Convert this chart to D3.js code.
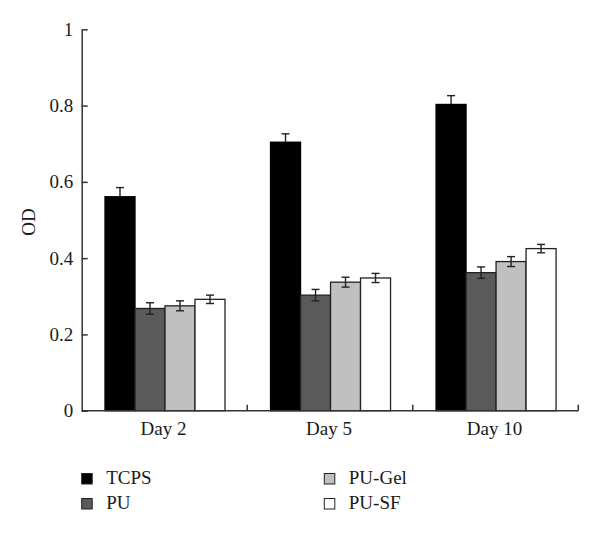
<!DOCTYPE html>
<html><head><meta charset="utf-8">
<script src="https://cdn.jsdelivr.net/npm/d3@7"></script>
<style>body{margin:0;background:#fff;}</style>
</head><body><svg id="c" width="600" height="538"></svg>
<script>
const days = ["Day 2", "Day 5", "Day 10"];
const seriesNames = ["TCPS", "PU", "PU-Gel", "PU-SF"];
const seriesColors = ["#000000", "#5a5a5a", "#c0c0c0", "#ffffff"];
const valTCPS  = [0.561, 0.704, 0.803];
const valPU    = [0.268, 0.303, 0.362];
const valPUGel = [0.275, 0.337, 0.391];
const valPUSF  = [0.292, 0.348, 0.425];
const errTCPS  = [0.024, 0.022, 0.023];
const errPU    = [0.015, 0.015, 0.015];
const errPUGel = [0.013, 0.013, 0.013];
const errPUSF  = [0.011, 0.012, 0.011];
const yTicks = [0, 0.2, 0.4, 0.6, 0.8, 1];
const yTickLabels = ["0", "0.2", "0.4", "0.6", "0.8", "1"];

(function(){
const values = [valTCPS, valPU, valPUGel, valPUSF];
const errors = [errTCPS, errPU, errPUGel, errPUSF];

const svg = d3.select("#c");
const font = "'Liberation Serif', 'DejaVu Serif', serif";
const fs = 19;
const axisColor = "#333";
const mLeft = 81.7, mRight = 578.3, mTop = 29.3, mBottom = 410.7;

const x = d3.scaleBand().domain(days).range([mLeft, mRight]).paddingInner(0).paddingOuter(0);
const y = d3.scaleLinear().domain([0, 1]).range([mBottom, mTop]);
const xs = d3.scaleBand().domain(seriesNames).range([23.3, 23.3 + 120]).padding(0);

const data = [];
days.forEach((d, i) => seriesNames.forEach((s, j) => data.push({day: d, s, j, v: values[j][i], e: errors[j][i]})));

const g = svg.append("g");
g.selectAll("rect.bar").data(data).join("rect")
  .attr("x", d => x(d.day) + xs(d.s))
  .attr("y", d => y(d.v))
  .attr("width", xs.bandwidth())
  .attr("height", d => y(0) - y(d.v))
  .attr("fill", d => seriesColors[d.j])
  .attr("stroke", d => d.j === 0 ? "#000" : "#222")
  .attr("stroke-width", 1.3);

const cx = d => x(d.day) + xs(d.s) + xs.bandwidth()/2;
const eb = g.selectAll("g.eb").data(data).join("g");
eb.append("line")
  .attr("x1", cx).attr("x2", cx)
  .attr("y1", d => d.j === 0 ? y(d.v) : y(d.v - d.e))
  .attr("y2", d => y(d.v + d.e))
  .attr("stroke", "#222").attr("stroke-width", 1.4);
eb.append("line")
  .attr("x1", d => cx(d) - 4).attr("x2", d => cx(d) + 4)
  .attr("y1", d => y(d.v + d.e)).attr("y2", d => y(d.v + d.e))
  .attr("stroke", "#222").attr("stroke-width", 1.4);
eb.filter(d => d.j !== 0).append("line")
  .attr("x1", d => cx(d) - 4).attr("x2", d => cx(d) + 4)
  .attr("y1", d => y(d.v - d.e)).attr("y2", d => y(d.v - d.e))
  .attr("stroke", "#222").attr("stroke-width", 1.4);

const yAxis = d3.axisLeft(y).tickValues(yTicks).tickFormat((d, i) => yTickLabels[i]).tickSizeInner(-6).tickSizeOuter(0).tickPadding(8.5);
const ya = svg.append("g").attr("transform", `translate(${mLeft},0)`).call(yAxis);
ya.select(".domain").attr("stroke", axisColor).attr("stroke-width", 1.5);
ya.selectAll(".tick line").attr("stroke", axisColor).attr("stroke-width", 1.5);
ya.selectAll(".tick text").attr("font-family", font).attr("font-size", fs).attr("fill", "#1a1a1a");

const xa = svg.append("g").attr("transform", `translate(0,${mBottom})`);
xa.append("line").attr("x1", mLeft).attr("x2", mRight).attr("y1", 0).attr("y2", 0).attr("stroke", axisColor).attr("stroke-width", 1.5);
const bounds = days.map(d => x(d) + x.bandwidth());
xa.selectAll("line.tk").data(bounds).join("line")
  .attr("x1", d => d).attr("x2", d => d).attr("y1", 0).attr("y2", -6)
  .attr("stroke", axisColor).attr("stroke-width", 1.5);
xa.selectAll("text").data(days).join("text")
  .attr("x", d => x(d) + x.bandwidth()/2 - 1)
  .attr("y", 24)
  .attr("text-anchor", "middle")
  .attr("font-family", font).attr("font-size", fs).attr("fill", "#1a1a1a")
  .text(d => d);

svg.append("text")
  .attr("transform", "translate(35,222) rotate(-90)")
  .attr("text-anchor", "middle")
  .attr("font-family", font).attr("font-size", fs).attr("fill", "#1a1a1a")
  .text("OD");

const legPos = [[81.7, 473.5], [81.7, 498.5], [324.3, 473.5], [324.3, 498.5]];
const leg = svg.selectAll("g.leg").data(seriesNames).join("g")
  .attr("transform", (d, i) => `translate(${legPos[i][0]},${legPos[i][1]})`);
leg.append("rect").attr("width", 10.5).attr("height", 10.5)
  .attr("fill", (d, i) => seriesColors[i]).attr("stroke", "#222").attr("stroke-width", 1);
leg.append("text").attr("x", 24.5).attr("y", 10.8)
  .attr("font-family", font).attr("font-size", fs).attr("fill", "#1a1a1a")
  .text(d => d);
})();
</script></body></html>
